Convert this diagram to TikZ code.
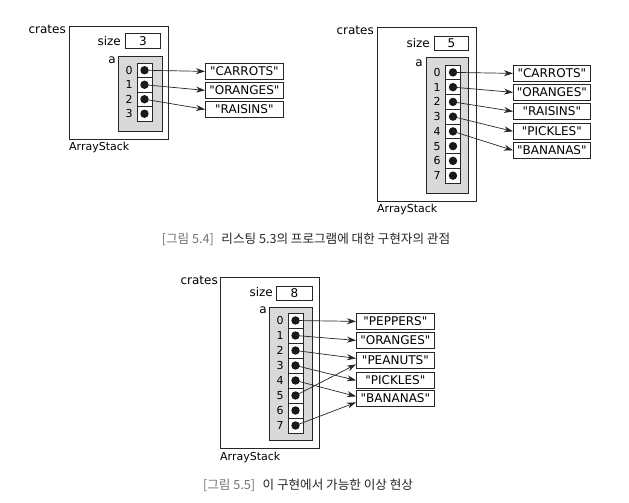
\documentclass[tikz,border=0pt]{standalone}
\usepackage{fontspec}
\setmainfont{DejaVu Sans}
\newfontfamily\diagfont{DejaVu Sans}
\newfontfamily\krfont{Noto Sans CJK KR}
\usetikzlibrary{arrows.meta}
\begin{document}
\begin{tikzpicture}[x=1pt,y=-1pt,
  box/.style={draw=black!85, line width=0.75pt, inner sep=0pt, anchor=north west},
  graybox/.style={box, fill=black!15},
  cellbox/.style={draw=black!85, line width=0.75pt, fill=white, minimum width=15pt, inner sep=0pt},
  strbox/.style={box, fill=white, font=\diagfont\fontsize{12}{12}\selectfont},
  lbl/.style={inner sep=0pt, font=\diagfont\fontsize{12}{12}\selectfont},
  idx/.style={inner sep=0pt, font=\diagfont\fontsize{11}{11}\selectfont},
  dotc/.style={fill=black!90},
  arr/.style={draw=black!85, line width=0.7pt, -{Stealth[length=9pt,width=6pt]}},
  captxt/.style={inner sep=0pt, font=\krfont\fontsize{12.6}{13}\selectfont, text=black!85}
]
\useasboundingbox[fill=white] (0,0) rectangle (629,503);

% ---------- Figure 1 ----------
\node[lbl, anchor=east] (f1crates) at (66,29) {crates};
\node[box, minimum width=99pt, minimum height=113pt] (f1out) at (69,26) {};
\node[lbl, anchor=east] (f1size) at (121,41) {size};
\node[box, minimum width=35pt, minimum height=15pt] (f1sz) at (125,33) {};
\node[lbl] (f1szv) at (f1sz.center) {3};
\node[lbl] (f1a) at (112,60) {a};
\node[graybox, minimum width=44pt, minimum height=75pt] (f1g) at (118,56) {};
\foreach \i in {0,...,3}{
  \node[cellbox, minimum height=14.5pt] (c1-\i) at (144.5,{70.25+14.5*\i}) {};
  \fill[dotc] (c1-\i.center) circle[radius=4.2pt];
  \node[idx] (i1-\i) at (129,{70.25+14.5*\i}) {\i};
}
\node[strbox, minimum width=78pt, minimum height=16pt] (s1-0) at (205,63) {"CARROTS"};
\node[strbox, minimum width=78pt, minimum height=16pt] (s1-1) at (205,82) {"ORANGES"};
\node[strbox, minimum width=78pt, minimum height=16pt] (s1-2) at (205,101) {"RAISINS"};
\foreach \i in {0,1,2}{ \draw[arr] (c1-\i.center) -- (s1-\i.west); }
\node[lbl, anchor=west, font=\diagfont\fontsize{11}{11}\selectfont] (f1as) at (69,147) {ArrayStack};

% ---------- Figure 2 ----------
\node[lbl, anchor=east] (f2crates) at (374,30) {crates};
\node[box, minimum width=99pt, minimum height=174pt] (f2out) at (377,27) {};
\node[lbl, anchor=east] (f2size) at (430,43) {size};
\node[box, minimum width=34pt, minimum height=14pt] (f2sz) at (434,36) {};
\node[lbl] (f2szv) at (f2sz.center) {5};
\node[lbl] (f2a) at (419,63) {a};
\node[graybox, minimum width=42pt, minimum height=136pt] (f2g) at (426,57) {};
\foreach \i in {0,...,7}{
  \node[cellbox, minimum height=14.75pt] (c2-\i) at (453,{72.4+14.75*\i}) {};
  \fill[dotc] (c2-\i.center) circle[radius=4.2pt];
  \node[idx] (i2-\i) at (437,{72.4+14.75*\i}) {\i};
}
\node[strbox, minimum width=77pt, minimum height=16pt] (s2-0) at (513,65) {"CARROTS"};
\node[strbox, minimum width=77pt, minimum height=16pt] (s2-1) at (513,84) {"ORANGES"};
\node[strbox, minimum width=77pt, minimum height=16pt] (s2-2) at (513,103) {"RAISINS"};
\node[strbox, minimum width=77pt, minimum height=16pt] (s2-3) at (513,123) {"PICKLES"};
\node[strbox, minimum width=77pt, minimum height=16pt] (s2-4) at (513,142) {"BANANAS"};
\foreach \i in {0,...,4}{ \draw[arr] (c2-\i.center) -- (s2-\i.west); }
\node[lbl, anchor=west, font=\diagfont\fontsize{11}{11}\selectfont] (f2as) at (377,209) {ArrayStack};

\node[captxt] (cap1) at (306,239) {{\color{black!55}[그림 5.4]}\hspace{0.6em}리스팅 5.3의 프로그램에 대한 구현자의 관점};

% ---------- Figure 3 ----------
\node[lbl, anchor=east] (f3crates) at (218,280) {crates};
\node[box, minimum width=99pt, minimum height=171pt] (f3out) at (220,277) {};
\node[lbl, anchor=east] (f3size) at (273,292) {size};
\node[box, minimum width=36pt, minimum height=14pt] (f3sz) at (276,286) {};
\node[lbl] (f3szv) at (f3sz.center) {8};
\node[lbl] (f3a) at (263,310) {a};
\node[graybox, minimum width=43pt, minimum height=133pt] (f3g) at (269,307) {};
\foreach \i in {0,...,7}{
  \node[cellbox, minimum height=15pt] (c3-\i) at (295.5,{320.5+15*\i}) {};
  \fill[dotc] (c3-\i.center) circle[radius=4.2pt];
  \node[idx] (i3-\i) at (280,{320.5+15*\i}) {\i};
}
\node[strbox, minimum width=78pt, minimum height=16pt] (s3-0) at (356,313) {"PEPPERS"};
\node[strbox, minimum width=78pt, minimum height=16pt] (s3-1) at (356,332) {"ORANGES"};
\node[strbox, minimum width=78pt, minimum height=16pt] (s3-2) at (356,352) {"PEANUTS"};
\node[strbox, minimum width=78pt, minimum height=16pt] (s3-3) at (356,372) {"PICKLES"};
\node[strbox, minimum width=78pt, minimum height=16pt] (s3-4) at (356,390) {"BANANAS"};
\draw[arr] (c3-0.center) -- (s3-0.west);
\draw[arr] (c3-1.center) -- (s3-1.west);
\draw[arr] (c3-2.center) -- ([yshift=2pt]s3-2.west);
\draw[arr] (c3-3.center) -- (s3-3.west);
\draw[arr] (c3-4.center) -- ([yshift=2pt]s3-4.west);
\draw[arr] (c3-5.center) -- ([yshift=-4pt]s3-2.west);
\draw[arr] (c3-7.center) -- ([yshift=-4pt]s3-4.west);
\node[lbl, anchor=west, font=\diagfont\fontsize{11}{11}\selectfont] (f3as) at (220,457) {ArrayStack};

\node[captxt] (cap2) at (308,485) {{\color{black!55}[그림 5.5]}\hspace{0.6em}이 구현에서 가능한 이상 현상};
\end{tikzpicture}
\end{document}
